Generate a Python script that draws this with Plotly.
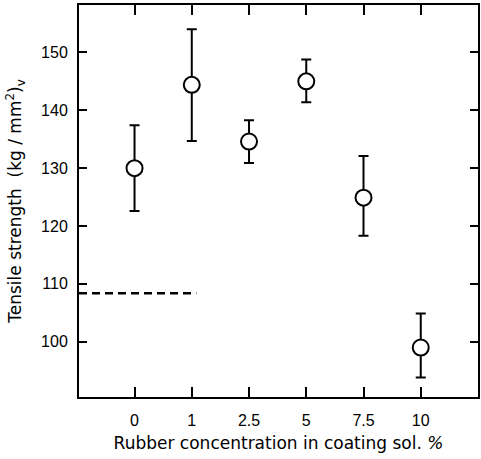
import plotly.graph_objects as go

categories = ["0", "1", "2.5", "5", "7.5", "10"]
strength = [130.0, 144.4, 134.6, 145.0, 124.9, 99.0]
err_plus = [7.4, 9.6, 3.7, 3.8, 7.2, 5.9]
err_minus = [7.4, 9.7, 3.7, 3.6, 6.6, 5.2]
reference_strength = 108.4
reference_span = [-0.97, 1.08]

x_idx = list(range(len(categories)))

fig = go.Figure()
fig.add_trace(go.Scatter(
    x=reference_span, y=[reference_strength] * 2, mode="lines",
    line=dict(color="black", width=2.5, dash="8px,5px"),
    hoverinfo="skip", showlegend=False,
))
fig.add_trace(go.Scatter(
    x=x_idx, y=strength, mode="markers",
    marker=dict(symbol="circle", size=16, color="white",
                line=dict(color="black", width=2)),
    error_y=dict(type="data", symmetric=False, array=err_plus,
                 arrayminus=err_minus, color="black", thickness=2, width=5),
    showlegend=False,
))

tick_font = dict(family="Liberation Sans, Arial, sans-serif", size=16, color="black")
title_font = dict(family="DejaVu Sans, sans-serif", size=17, color="black")
fig.update_layout(
    width=481, height=459,
    margin=dict(l=79, r=1, t=5, b=62),
    paper_bgcolor="white", plot_bgcolor="white",
    font=tick_font,
    xaxis=dict(
        range=[-0.97, 6.0], tickmode="array", tickvals=x_idx, ticktext=categories,
        ticks="inside", ticklen=10, tickwidth=2, tickcolor="black",
        tickfont=tick_font, ticklabelstandoff=8,
        showline=True, linecolor="black", linewidth=2, mirror="allticks",
        showgrid=False, zeroline=False,
        title=dict(text="Rubber concentration in coating sol. <i>%</i>",
                   font=title_font, standoff=9),
    ),
    yaxis=dict(
        range=[90.45, 158.2], tickmode="array", tickvals=[100, 110, 120, 130, 140, 150],
        ticks="inside", ticklen=8, tickwidth=2, tickcolor="black",
        tickfont=tick_font, ticklabelstandoff=6,
        showline=True, linecolor="black", linewidth=2, mirror="allticks",
        showgrid=False, zeroline=False,
        title=dict(text="Tensile strength  (kg / mm<sup>2</sup>)<sub>v</sub>",
                   font=title_font, standoff=15),
    ),
)

fig.write_html(
    "out.html",
    config={"displayModeBar": False},
    post_script="document.body.style.margin='0';document.body.style.overflow='hidden';",
)
